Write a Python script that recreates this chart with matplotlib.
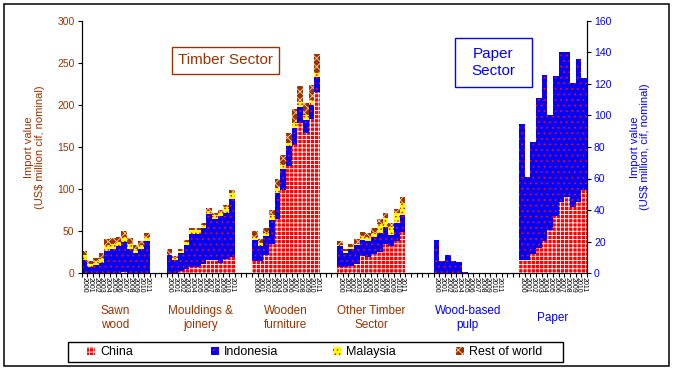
import matplotlib
matplotlib.use('Agg')
import matplotlib.pyplot as plt
from matplotlib.patches import Rectangle, Patch
from matplotlib.transforms import blended_transform_factory
import numpy as np

plt.rcParams['font.family'] = ['Liberation Sans', 'DejaVu Sans']
plt.rcParams['hatch.linewidth'] = 0.6

# ---------------- data ----------------
years = [str(y) for y in range(2000, 2012)]
group_labels = ['Sawn\nwood', 'Mouldings &\njoinery', 'Wooden\nfurniture',
                'Other Timber\nSector', 'Wood-based\npulp', 'Paper']
series_names = ['China', 'Indonesia', 'Malaysia', 'Rest of world']

# Timber sector (left axis, US$ million)
sawn_china = [0, 0, 0, 0, 0, 0, 0, 1, 0, 0, 0, 0]
sawn_indonesia = [16, 7, 9, 12, 26, 29, 32, 36, 29, 24, 29, 38]
sawn_malaysia = [5, 4, 5, 6, 7, 5.5, 5, 6, 5, 4, 4, 4.5]
sawn_row = [5, 3, 4, 6, 8, 7, 6, 7, 8, 5, 5, 5]

mould_china = [0, 0, 2, 5, 7, 7, 11, 15, 15, 12, 17, 19]
mould_indonesia = [22, 16, 22, 28, 40, 40, 43, 55, 49, 56, 55, 69]
mould_malaysia = [1, 2, 2, 3.5, 4, 4, 3, 4, 5, 4.5, 6, 7]
mould_row = [5, 2, 3, 3, 2, 2, 3, 3, 3, 3, 3, 4]

furn_china = [14, 14, 21, 35, 64, 99, 127, 152, 178, 167, 183, 216]
furn_indonesia = [25, 18, 23, 28, 31, 25, 24, 21, 20, 15, 17, 17]
furn_malaysia = [4, 4, 4, 6, 6, 5, 4, 5, 5, 6, 6, 5]
furn_row = [7, 4, 6, 6, 11, 12, 12, 17, 20, 14, 18, 23]

other_china = [7, 7, 8, 11, 20, 19, 23, 25, 35, 32, 38, 49]
other_indonesia = [25, 17, 21, 22, 19, 19, 20, 23, 20, 13, 21, 20]
other_malaysia = [1, 2, 2, 2, 5, 5, 5, 10, 11, 10, 12, 14]
other_row = [5, 3, 4, 5, 5, 5, 5, 6, 5, 5, 5, 7]

# Paper sector (right axis, US$ million)
pulp_china = [0] * 12
pulp_indonesia = [21, 7.6, 11.4, 7.6, 7.2, 0.6, 0, 0, 0, 0, 0, 0]
pulp_malaysia = [0] * 12
pulp_row = [0] * 12

paper_china = [8.5, 8.5, 12, 16, 20.5, 27, 36, 45, 48, 42, 45, 53]
paper_indonesia = [86, 52.5, 71, 95, 105.5, 73, 89, 95, 92, 78.5, 91, 71]
paper_malaysia = [0] * 12
paper_row = [0] * 12

groups = [
    (sawn_china, sawn_indonesia, sawn_malaysia, sawn_row),
    (mould_china, mould_indonesia, mould_malaysia, mould_row),
    (furn_china, furn_indonesia, furn_malaysia, furn_row),
    (other_china, other_indonesia, other_malaysia, other_row),
    (pulp_china, pulp_indonesia, pulp_malaysia, pulp_row),
    (paper_china, paper_indonesia, paper_malaysia, paper_row),
]
on_right = [False, False, False, False, True, True]

# ---------------- style ----------------
styles = [
    dict(facecolor='#FF0000', edgecolor='white', hatch='++++'),
    dict(facecolor='#0000FF', edgecolor='#FF0000', hatch='...'),
    dict(facecolor='#FFFF00', edgecolor='#FF0000', hatch='....'),
    dict(facecolor='#993300', edgecolor='#FFD0A0', hatch='xxxx'),
]
timber_col = '#993300'
paper_col = '#0000FF'

W, H = 673, 370
fig = plt.figure(figsize=(W / 100, H / 100), dpi=100)
x0, x1, ytop, ybot = 81.5, 587, 21, 273
ax = fig.add_axes([x0 / W, (H - ybot) / H, (x1 - x0) / W, (ybot - ytop) / H])
ax2 = ax.twinx()

group_starts = [0, 15, 30, 45, 62, 77]
nslots = 89

tick_pos, tick_lab = [], []
for g, (vals, right, start) in enumerate(zip(groups, on_right, group_starts)):
    target = ax2 if right else ax
    x = start + np.arange(len(years))
    bottom = np.zeros(len(years))
    for s, v in enumerate(vals):
        v = np.asarray(v, dtype=float)
        target.bar(x, v, width=1.0, bottom=bottom, linewidth=0, **styles[s])
        bottom += v
    tick_pos.extend(x)
    tick_lab.extend(years)

ax.set_xlim(-0.5, nslots - 0.5)
ax.set_ylim(0, 300)
ax2.set_ylim(0, 160)
ax.set_yticks(range(0, 301, 50))
ax2.set_yticks(range(0, 161, 20))

ax.set_xticks(tick_pos)
ax.set_xticklabels(tick_lab, rotation=-90, fontsize=5)
ax.set_xticks(np.arange(-0.5, nslots, 1), minor=True)
ax.tick_params(axis='x', which='major', length=0, pad=3)
ax.tick_params(axis='x', which='minor', length=3, direction='out', width=0.8)
ax.tick_params(axis='y', direction='out', length=3, width=0.8,
               labelsize=7.5, labelcolor=timber_col, pad=2)
ax2.tick_params(axis='y', direction='out', length=3, width=0.8,
                labelsize=7.5, labelcolor=paper_col, pad=2)

for a in (ax, ax2):
    a.spines['top'].set_visible(False)
    for sp in ('left', 'right', 'bottom'):
        a.spines[sp].set_linewidth(0.8)

# axis titles
fig.text(34.5 / W, (H - 147) / H, 'Import value\n(US$ million cif, nominal)',
         rotation=90, ha='center', va='center', fontsize=8, color=timber_col,
         linespacing=1.1)
fig.text(640 / W, (H - 147) / H, 'Import value\n(US$ million, cif, nominal)',
         rotation=90, ha='center', va='center', fontsize=8, color=paper_col,
         linespacing=1.1)

# group labels
trans = blended_transform_factory(ax.transData, ax.transAxes)
ylab = (ybot - 318) / (ybot - ytop)
for g, (lab, start) in enumerate(zip(group_labels, group_starts)):
    col = paper_col if on_right[g] else timber_col
    ax.text(start + 5.5, ylab, lab, transform=trans, ha='center', va='center',
            fontsize=8.5, color=col, linespacing=1.15, multialignment='center')

# sector boxes
def box(xa, ya, xb, yb, col):
    fig.patches.append(Rectangle((xa / W, (H - yb) / H), (xb - xa) / W, (yb - ya) / H,
                                 transform=fig.transFigure, facecolor='white',
                                 edgecolor=col, linewidth=1.0, zorder=5))

box(172, 47, 279, 74, timber_col)
fig.text(225.5 / W, (H - 60.5) / H, 'Timber Sector', ha='center', va='center',
         fontsize=11, color=timber_col, zorder=6)
box(455, 38, 532, 87, paper_col)
fig.text(493.5 / W, (H - 62.5) / H, 'Paper\nSector', ha='center', va='center',
         fontsize=11, color=paper_col, zorder=6, linespacing=1.35)

# legend frame and entries
fig.patches.append(Rectangle((68 / W, (H - 362) / H), (563 - 68) / W, 20 / H,
                             transform=fig.transFigure, facecolor='white',
                             edgecolor='black', linewidth=1.0))
leg_x = [87, 211, 333, 456]
for s, name in enumerate(series_names):
    h = Patch(linewidth=0, **styles[s])
    fig.legend(handles=[h], labels=[name], loc='center left',
               bbox_to_anchor=(leg_x[s] / W, (H - 352) / H), frameon=False,
               handlelength=0.6, handleheight=0.6, handletextpad=0.45,
               borderpad=0, borderaxespad=0, fontsize=9)

# outer border
fig.patches.append(Rectangle((4 / W, 4 / H), (669 - 4) / W, (366 - 4) / H,
                             transform=fig.transFigure, facecolor='none',
                             edgecolor='black', linewidth=1.1))

fig.savefig('out.png', dpi=100)
